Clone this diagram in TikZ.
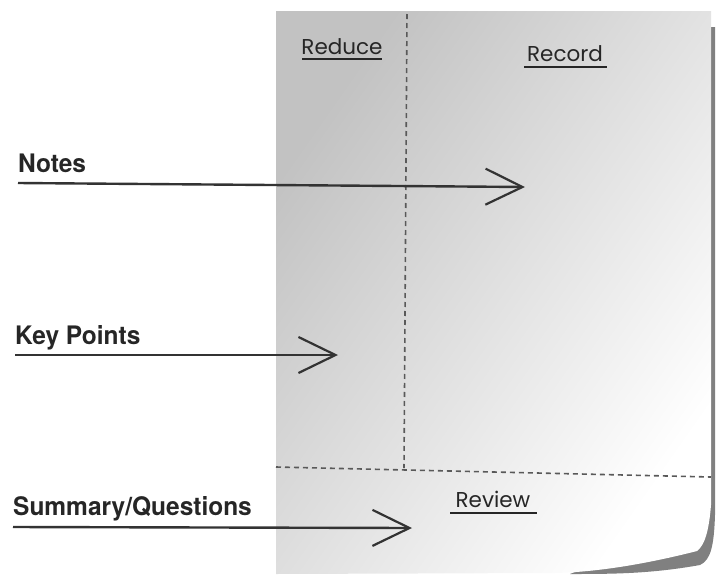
\documentclass[tikz,border=0pt]{standalone}
\usepackage{fontspec}
\usepackage{tikz}
\usetikzlibrary{arrows.meta}
\newfontfamily\labelfont[FakeStretch=0.96]{texgyreheros-bold.otf}
\newfontfamily\handfont{Poppins}

\begin{document}
\begin{tikzpicture}[x=1pt,y=-1pt,
    sidelabel/.style={anchor=base west,inner sep=0pt,font=\labelfont\fontsize{25.5}{28}\selectfont,text=black!85},
    pointer/.style={draw=black!80,line width=2.4pt,-{Straight Barb[length=37pt,width=36pt,line width=2.2pt]}},
    section/.style={anchor=base,inner sep=0pt,font=\handfont\fontsize{21.5}{24}\selectfont,text=black!85},
    ruling/.style={black!65,line width=1.6pt,dash pattern=on 5pt off 4pt}]

    \useasboundingbox (0,0) rectangle (721,574);

    % shadow of the curled sheet
    \fill[black!50] (709,27) -- (715,27) -- (715,515)
      .. controls (714,545) and (711,560) .. (700,565)
      .. controls (650,574) and (610,574) .. (570,574) -- (709,520) -- cycle;

    % the sheet
    \shade[shading=axis,top color=black!24,bottom color=white,shading angle=55]
      (276,11) -- (711,11) -- (711,505)
      .. controls (709,530) and (705,545) .. (697,551)
      .. controls (650,563) and (600,572) .. (555,573)
      -- (276,574) -- cycle;

    % cue, notes and summary areas
    \draw[ruling] (407,14) -- (404,468);
    \draw[ruling] (276,467) -- (711,477);

    \node[section] (reduce) at (342,54) {Reduce};
    \draw[black!85,line width=1.3pt] (302,59) -- (382,59);
    \node[section] (record) at (565,61) {Record};
    \draw[black!85,line width=1.3pt] (524,67) -- (607,67);
    \node[section] (review) at (493,507) {Review};
    \draw[black!85,line width=1.3pt] (450,513) -- (537,513);

    % labels with their arrows
    \node[sidelabel] (notes) at (18,172) {Notes};
    \coordinate (notestip) at (525,187);
    \draw[pointer] ([yshift=-11]notes.base west) -- (notestip);

    \node[sidelabel] (keypts) at (15,344) {Key Points};
    \coordinate (keyptstip) at (338,355);
    \draw[pointer] ([yshift=-11]keypts.base west) -- (keyptstip);

    \node[sidelabel] (summary) at (13,515) {Summary/Questions};
    \coordinate (summarytip) at (412,528);
    \draw[pointer] ([yshift=-12]summary.base west) -- (summarytip);

  \end{tikzpicture}
\end{document}
